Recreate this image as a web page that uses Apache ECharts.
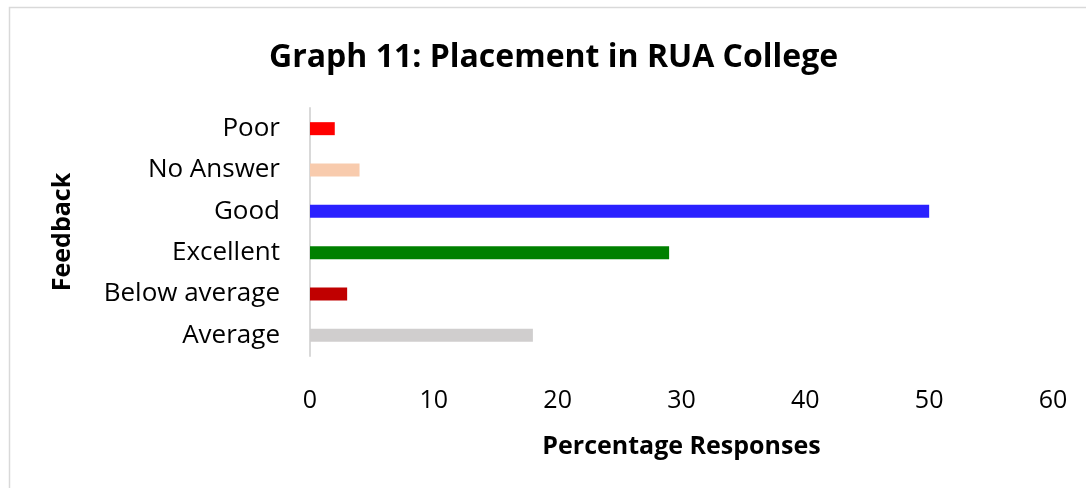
<!DOCTYPE html>
<html>
<head>
<meta charset="utf-8">
<script src="https://cdn.jsdelivr.net/npm/echarts@6/dist/echarts.min.js"></script>
<style>
  html, body { margin: 0; padding: 0; background: #fff; }
  #myChart { width: 1086px; height: 488px; }
</style>
</head>
<body>
<div id="myChart"></div>
<script>
// categories listed bottom to top, as the category axis draws them
var feedback = ["Average", "Below average", "Excellent", "Good", "No Answer", "Poor"];
var responses = [18, 3, 29, 50, 4, 2];
var barColors = ["#d0cece", "#c00000", "#008000", "#2a21ff", "#f8cbad", "#ff0000"];
var xTicks = [0, 10, 20, 30, 40, 50, 60];

var font = "'Open Sans', 'Noto Sans', sans-serif";

var myChart = echarts.init(document.getElementById("myChart"));
myChart.setOption({
  animation: false,
  title: {
    text: "Graph 11: Placement in RUA College",
    left: 264,
    top: 37,
    textStyle: { fontFamily: font, fontWeight: "bold", fontSize: 32, color: "#000" }
  },
  graphic: [{
    type: "rect",
    shape: { x: 9.5, y: 7.5, width: 1100, height: 500 },
    style: { fill: "none", stroke: "#d9d9d9", lineWidth: 1.5 },
    silent: true
  }],
  grid: { left: 310, right: 33, top: 108, bottom: 132 },
  xAxis: {
    type: "value",
    min: xTicks[0],
    max: xTicks[xTicks.length - 1],
    interval: 10,
    name: "Percentage Responses",
    nameLocation: "middle",
    nameGap: 78,
    nameTextStyle: { fontFamily: font, fontWeight: "bold", fontSize: 25, color: "#000" },
    axisLine: { show: false },
    axisTick: { show: false },
    splitLine: { show: false },
    axisLabel: { fontFamily: font, fontSize: 25, color: "#000", margin: 32 }
  },
  yAxis: {
    type: "category",
    data: feedback,
    name: "Feedback",
    nameLocation: "middle",
    nameGap: 235,
    nameRotate: 90,
    nameTextStyle: { fontFamily: font, fontWeight: "bold", fontSize: 25, color: "#000" },
    axisLine: { show: true, lineStyle: { color: "#d9d9d9", width: 2 } },
    axisTick: { show: false },
    axisLabel: { fontFamily: font, fontSize: 26, color: "#000", margin: 30 }
  },
  series: [{
    type: "bar",
    barWidth: 13,
    data: responses.map(function (v, i) {
      return { value: v, itemStyle: { color: barColors[i] } };
    })
  }]
});
</script>
</body>
</html>
